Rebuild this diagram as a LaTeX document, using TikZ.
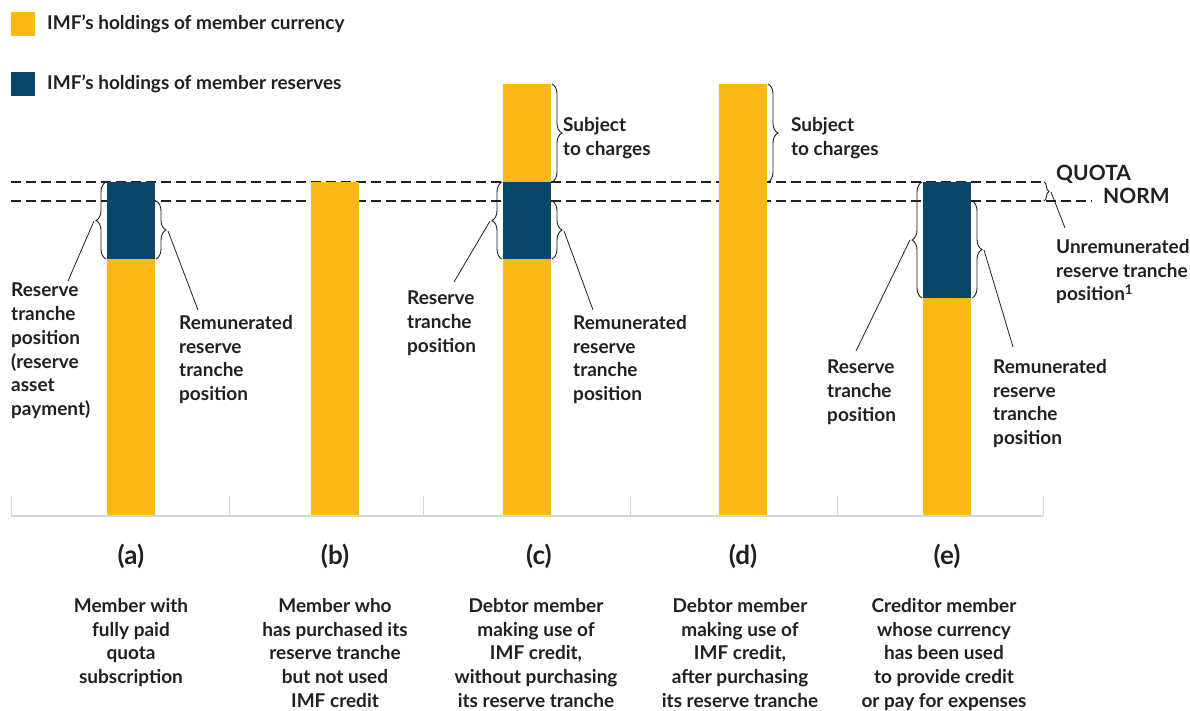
\documentclass[tikz,border=0pt]{standalone}
\usepackage{fontspec}
\setmainfont{Lato}
\usetikzlibrary{calc, positioning, decorations.pathreplacing}
\definecolor{imfgold}{HTML}{FDB913}
\definecolor{imfnavy}{HTML}{074767}
\definecolor{inkdark}{HTML}{231F20}
\definecolor{axisgray}{HTML}{D6D6D6}

\begin{document}
\begin{tikzpicture}[x=1pt, y=-1pt,
    txt/.style={font=\fontsize{19}{23.7}\selectfont\bfseries, text=inkdark, inner sep=0pt, align=left, anchor=north west},
    desctxt/.style={font=\fontsize{19}{23.7}\selectfont\bfseries, text=inkdark, inner sep=0pt, align=center, anchor=north},
    panel/.style={font=\fontsize{26}{30}\selectfont\bfseries, text=inkdark, inner sep=0pt},
    levelline/.style={draw=inkdark, line width=2.2pt, dash pattern=on 10pt off 5pt},
    brace/.style={draw=inkdark, line width=0.9pt, decorate, decoration={brace, amplitude=10pt}},
    leader/.style={draw=inkdark, line width=0.8pt}]

    \useasboundingbox (0,0) rectangle (1190,710);

    % Legend
    \fill[imfgold] (11,12) rectangle (35,36);
    \node[txt, anchor=west] (keycur) at (47,24) {IMF’s holdings of member currency};
    \fill[imfnavy] (11,72) rectangle (35,96);
    \node[txt, anchor=west] (keyres) at (47,84) {IMF’s holdings of member reserves};

    % Axis and ticks
    \draw[axisgray, line width=2pt] (11,515.5) -- (1043,515.5);
    \foreach \tx in {11,229,423,630,837,1043}
        \draw[axisgray, line width=1pt] (\tx,496) -- (\tx,515.5);

    % Quota and norm levels
    \draw[levelline] (11,182) -- (1043,182);
    \draw[levelline] (11,201) -- (1092,201);
    \node[txt, font=\fontsize{21}{24}\selectfont\bfseries] (quota) at (1056,165) {QUOTA};
    \node[txt, font=\fontsize{21}{24}\selectfont\bfseries] (norm) at (1103,188) {NORM};

    % Bars
    \fill[imfgold] (107,259) rectangle (155,515);
    \fill[imfnavy] (107,182) rectangle (155,259);
    \fill[imfgold] (311,182) rectangle (359,515);
    \fill[imfgold] (503,84) rectangle (551,182);
    \fill[imfnavy] (503,182) rectangle (551,259);
    \fill[imfgold] (503,259) rectangle (551,515);
    \fill[imfgold] (719,84) rectangle (767,515);
    \fill[imfnavy] (923,182) rectangle (971,298);
    \fill[imfgold] (923,298) rectangle (971,515);

    % Braces
    \draw[brace] (106,259) -- (106,182);
    \draw[brace] (156,201) -- (156,259);
    \draw[brace] (552,84) -- (552,182);
    \draw[brace] (502,259) -- (502,182);
    \draw[brace] (552,201) -- (552,259);
    \draw[brace] (768,84) -- (768,182);
    \draw[brace] (922,298) -- (922,182);
    \draw[brace] (972,201) -- (972,298);
    \draw[brace, decoration={amplitude=5pt}] (1044,182) -- (1044,201);
    \coordinate (tipAl) at (94,221);
    \coordinate (tipAr) at (168,231);
    \coordinate (tipCl) at (490,221);
    \coordinate (tipCr) at (564,231);
    \coordinate (tipEl) at (910,240);
    \coordinate (tipEr) at (984,250);
    \coordinate (tipU) at (1051,192);

    % Labels beside the bars
    \node[txt] (resA) at (11,283) {Reserve\\tranche\\position\\(reserve\\asset\\payment)};
    \node[txt] (remA) at (179,315) {Remunerated\\reserve\\tranche\\position};
    \node[txt] (subC) at (563,117) {Subject\\to charges};
    \node[txt] (resC) at (407,291) {Reserve\\tranche\\position};
    \node[txt] (remC) at (573,315) {Remunerated\\reserve\\tranche\\position};
    \node[txt] (subD) at (791,117) {Subject\\to charges};
    \node[txt] (resE) at (827,360) {Reserve\\tranche\\position};
    \node[txt] (remE) at (993,359) {Remunerated\\reserve\\tranche\\position};
    \node[txt] (unrem) at (1056,239) {Unremunerated\\reserve tranche\\position\textsuperscript{1}};

    % Leader lines
    \draw[leader] (tipAl) -- ([xshift=57pt,yshift=2pt]resA.north west);
    \draw[leader] (tipAr) -- ([xshift=19pt,yshift=5pt]remA.north west);
    \draw[leader] (tipCl) -- ([xshift=47pt,yshift=9pt]resC.north west);
    \draw[leader] (tipCr) -- ([xshift=20pt,yshift=5pt]remC.north west);
    \draw[leader] (tipEl) -- ([xshift=29pt,yshift=9pt]resE.north west);
    \draw[leader] (tipEr) -- ([xshift=20pt,yshift=12pt]remE.north west);
    \draw[leader] (tipU) -- ([xshift=9pt,yshift=11pt]unrem.north west);

    % Panel letters
    \foreach \lx/\lbl in {131/a, 335/b, 539/c, 743/d, 947/e}
        \node[panel] (lab\lbl) at (\lx,556) {(\lbl)};

    % Panel descriptions
    \node[desctxt] (descA) at (131,598) {Member with\\fully paid\\quota\\subscription};
    \node[desctxt] (descB) at (335,598) {Member who\\has purchased its\\reserve tranche\\but not used\\IMF credit};
    \node[desctxt] (descC) at (536,598) {Debtor member\\making use of\\IMF credit,\\without purchasing\\its reserve tranche};
    \node[desctxt] (descD) at (740,598) {Debtor member\\making use of\\IMF credit,\\after purchasing\\its reserve tranche};
    \node[desctxt] (descE) at (944,598) {Creditor member\\whose currency\\has been used\\to provide credit\\or pay for expenses};
\end{tikzpicture}
\end{document}
